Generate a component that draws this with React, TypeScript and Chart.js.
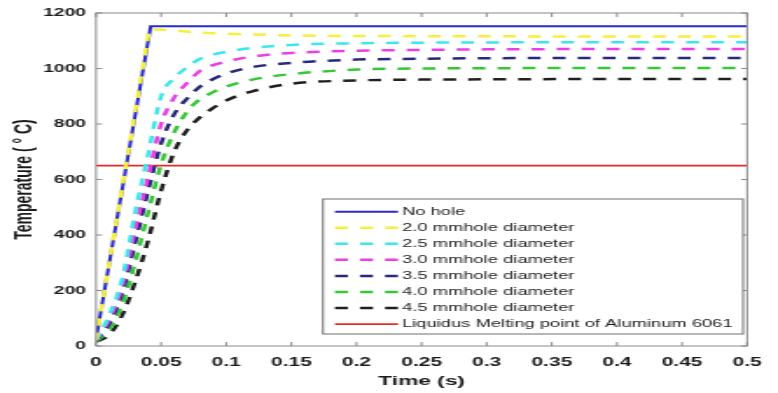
import React, { useEffect, useRef } from 'react';
import { Chart, registerables } from 'chart.js';

Chart.register(...registerables);

// ---------- data ----------
const TIME = [0, 0.01, 0.02, 0.03, 0.04, 0.05, 0.06, 0.07, 0.08, 0.09, 0.1, 0.12, 0.15, 0.2, 0.25, 0.3, 0.4, 0.5];
const HOLE_25 = [20, 110, 240, 480, 690, 900, 965, 1005, 1035, 1050, 1060, 1074, 1085, 1091, 1093, 1094, 1095, 1095];
const HOLE_30 = [20, 95, 215, 420, 610, 800, 895, 948, 992, 1012, 1025, 1043, 1056, 1064, 1067, 1069, 1070, 1070];
const HOLE_35 = [18, 80, 190, 370, 560, 730, 835, 892, 935, 962, 982, 1005, 1020, 1032, 1035, 1037, 1038, 1038];
const HOLE_40 = [16, 60, 150, 300, 480, 655, 770, 845, 890, 915, 935, 960, 980, 996, 1000, 1001, 1002, 1002];
const HOLE_45 = [15, 40, 110, 230, 380, 560, 700, 778, 825, 858, 885, 918, 945, 957, 960, 961, 962, 962];

const NO_HOLE_TIME = [0, 0.042, 0.5];
const NO_HOLE = [25, 1152, 1152];

const HOLE_20_TIME = [0, 0.041, 0.06, 0.08, 0.1, 0.15, 0.2, 0.3, 0.4, 0.5];
const HOLE_20 = [22, 1142, 1137, 1129, 1125, 1119, 1117, 1116, 1115, 1115];

const MELT_TIME = [0, 0.5];
const MELT = [650, 650];

const SERIES_LABELS = [
  'No hole',
  '2.0 mmhole diameter',
  '2.5 mmhole diameter',
  '3.0 mmhole diameter',
  '3.5 mmhole diameter',
  '4.0 mmhole diameter',
  '4.5 mmhole diameter',
  'Liquidus Melting point of Aluminum 6061',
];

const X_TICK_VALUES = [0, 0.05, 0.1, 0.15, 0.2, 0.25, 0.3, 0.35, 0.4, 0.45, 0.5];
const X_TICK_LABELS = ['0', '0.05', '0.1', '0.15', '0.2', '0.25', '0.3', '0.35', '0.4', '0.45', '0.5'];
const Y_TICK_VALUES = [0, 200, 400, 600, 800, 1000, 1200];
const Y_TICK_LABELS = ['0', '200', '400', '600', '800', '1000', '1200'];

const X_TITLE = 'Time (s)';
const Y_TITLE = 'Temperature ( \u00B0 C)';

// ---------- layout ----------
const PAGE_W = 778;
const PAGE_H = 393;
const W = 445; // internal canvas width, stretched horizontally to page width
const S = PAGE_W / W;
const FONT = "'Liberation Sans', Arial, Helvetica, sans-serif";
const DASH = [7.4, 6.9];

const pair = (xs: number[], ys: number[]) => xs.map((x, i) => ({ x, y: ys[i] }));

const decorPlugin = {
  id: 'decor',
  afterDraw(chart: any) {
    const { ctx, chartArea: a, scales } = chart;
    ctx.save();
    // frame
    ctx.strokeStyle = '#8a8a8a';
    ctx.lineWidth = 1;
    ctx.setLineDash([]);
    ctx.strokeRect(a.left, a.top, a.right - a.left, a.bottom - a.top);
    const seg = (x1: number, y1: number, x2: number, y2: number) => {
      ctx.beginPath();
      ctx.moveTo(x1, y1);
      ctx.lineTo(x2, y2);
      ctx.stroke();
    };
    // inward ticks
    for (const t of scales.x.ticks) {
      const px = scales.x.getPixelForValue(t.value);
      seg(px, a.bottom, px, a.bottom - 4);
      seg(px, a.top, px, a.top + 4);
    }
    for (const t of scales.y.ticks) {
      const py = scales.y.getPixelForValue(t.value);
      seg(a.left, py, a.left + 3.5, py);
      seg(a.right, py, a.right - 3.5, py);
    }
    // legend
    const bx1 = 323 / S, bx2 = 743 / S, by1 = 199, by2 = 334;
    ctx.fillStyle = '#ffffff';
    ctx.fillRect(bx1, by1, bx2 - bx1, by2 - by1);
    ctx.strokeStyle = '#6e6e6e';
    ctx.lineWidth = 1;
    ctx.strokeRect(bx1, by1, bx2 - bx1, by2 - by1);
    const lx1 = 335 / S, lx2 = 398 / S, tx = 402 / S;
    const row0 = 211.7, rowStep = 16.05;
    ctx.font = `10.5px ${FONT}`;
    ctx.textBaseline = 'middle';
    ctx.textAlign = 'left';
    chart.data.datasets.forEach((ds: any, i: number) => {
      const y = row0 + i * rowStep;
      ctx.strokeStyle = ds.borderColor;
      ctx.lineWidth = ds.borderWidth;
      ctx.setLineDash(ds.borderDash || []);
      ctx.lineDashOffset = 0;
      seg(lx1, y, lx2, y);
      ctx.setLineDash([]);
      ctx.fillStyle = '#1e1e1e';
      ctx.fillText(ds.label, tx, y + 0.5);
    });
    ctx.restore();
  },
};

export default function App() {
  const ref = useRef<HTMLCanvasElement | null>(null);

  useEffect(() => {
    const canvas = ref.current;
    if (!canvas) return;
    const mk = (label: string, data: any[], color: string, opts: any = {}) => ({
      label,
      data,
      borderColor: color,
      backgroundColor: color,
      borderWidth: 2.5,
      pointRadius: 0,
      fill: false,
      ...opts,
    });
    const chart = new Chart(canvas, {
      type: 'line',
      data: {
        datasets: [
          mk(SERIES_LABELS[0], pair(NO_HOLE_TIME, NO_HOLE), '#2a2ad0', { borderWidth: 2, tension: 0, order: 5 }),
          mk(SERIES_LABELS[1], pair(HOLE_20_TIME, HOLE_20), '#f4f03c', { borderDash: DASH, tension: 0, order: 1 }),
          mk(SERIES_LABELS[2], pair(TIME, HOLE_25), '#3ee6ea', { borderDash: DASH, cubicInterpolationMode: 'monotone', order: 1 }),
          mk(SERIES_LABELS[3], pair(TIME, HOLE_30), '#ea3ee6', { borderDash: DASH, cubicInterpolationMode: 'monotone', order: 1 }),
          mk(SERIES_LABELS[4], pair(TIME, HOLE_35), '#28287e', { borderDash: DASH, cubicInterpolationMode: 'monotone', order: 1 }),
          mk(SERIES_LABELS[5], pair(TIME, HOLE_40), '#36c636', { borderDash: DASH, cubicInterpolationMode: 'monotone', order: 1 }),
          mk(SERIES_LABELS[6], pair(TIME, HOLE_45), '#202020', { borderDash: DASH, cubicInterpolationMode: 'monotone', order: 1 }),
          mk(SERIES_LABELS[7], pair(MELT_TIME, MELT), '#e62a2a', { borderWidth: 1.8, tension: 0, order: 10 }),
        ],
      },
      options: {
        animation: false,
        responsive: false,
        devicePixelRatio: 1,
        events: [],
        layout: { padding: { left: 0, top: 13, right: W - 763 / S, bottom: 0 } },
        plugins: {
          legend: { display: false },
          tooltip: { enabled: false },
          title: { display: false },
        },
        scales: {
          x: {
            type: 'linear',
            min: 0,
            max: 0.5,
            grid: { display: false, drawTicks: false },
            border: { display: false },
            afterBuildTicks: (s: any) => {
              s.ticks = X_TICK_VALUES.map((v) => ({ value: v }));
            },
            afterFit: (s: any) => {
              s.height = PAGE_H - 346;
            },
            ticks: {
              autoSkip: false,
              maxRotation: 0,
              minRotation: 0,
              padding: 9.3,
              color: '#1a1a1a',
              font: { family: FONT, size: 12, weight: 'bold' },
              callback: (_v: any, i: number) => X_TICK_LABELS[i],
            },
            title: {
              display: true,
              text: X_TITLE,
              color: '#1a1a1a',
              font: { family: FONT, size: 13, weight: 'bold' },
              padding: { top: 0, bottom: 3.7 },
            },
          },
          y: {
            type: 'linear',
            min: 0,
            max: 1200,
            grid: { display: false, drawTicks: false },
            border: { display: false },
            afterBuildTicks: (s: any) => {
              s.ticks = Y_TICK_VALUES.map((v) => ({ value: v }));
            },
            afterFit: (s: any) => {
              s.width = 96 / S;
            },
            ticks: {
              autoSkip: false,
              padding: 5.7,
              color: '#1a1a1a',
              font: { family: FONT, size: 11, weight: 'bold' },
              callback: (_v: any, i: number) => Y_TICK_LABELS[i],
            },
            title: {
              display: true,
              text: Y_TITLE,
              color: '#1a1a1a',
              font: { family: FONT, size: 14, weight: 'bold' },
              padding: { top: 5.3, bottom: 0 },
            },
          },
        },
      } as any,
      plugins: [decorPlugin],
    });
    return () => chart.destroy();
  }, []);

  return (
    <div
      style={{
        position: 'absolute',
        left: 0,
        top: 0,
        width: PAGE_W,
        height: PAGE_H,
        overflow: 'hidden',
        background: '#ffffff',
      }}
    >
      <div
        style={{
          width: W,
          height: PAGE_H,
          transform: `scaleX(${S})`,
          transformOrigin: '0 0',
        }}
      >
        <canvas
          ref={ref}
          width={W}
          height={PAGE_H}
          style={{ display: 'block', width: W, height: PAGE_H }}
        />
      </div>
    </div>
  );
}
